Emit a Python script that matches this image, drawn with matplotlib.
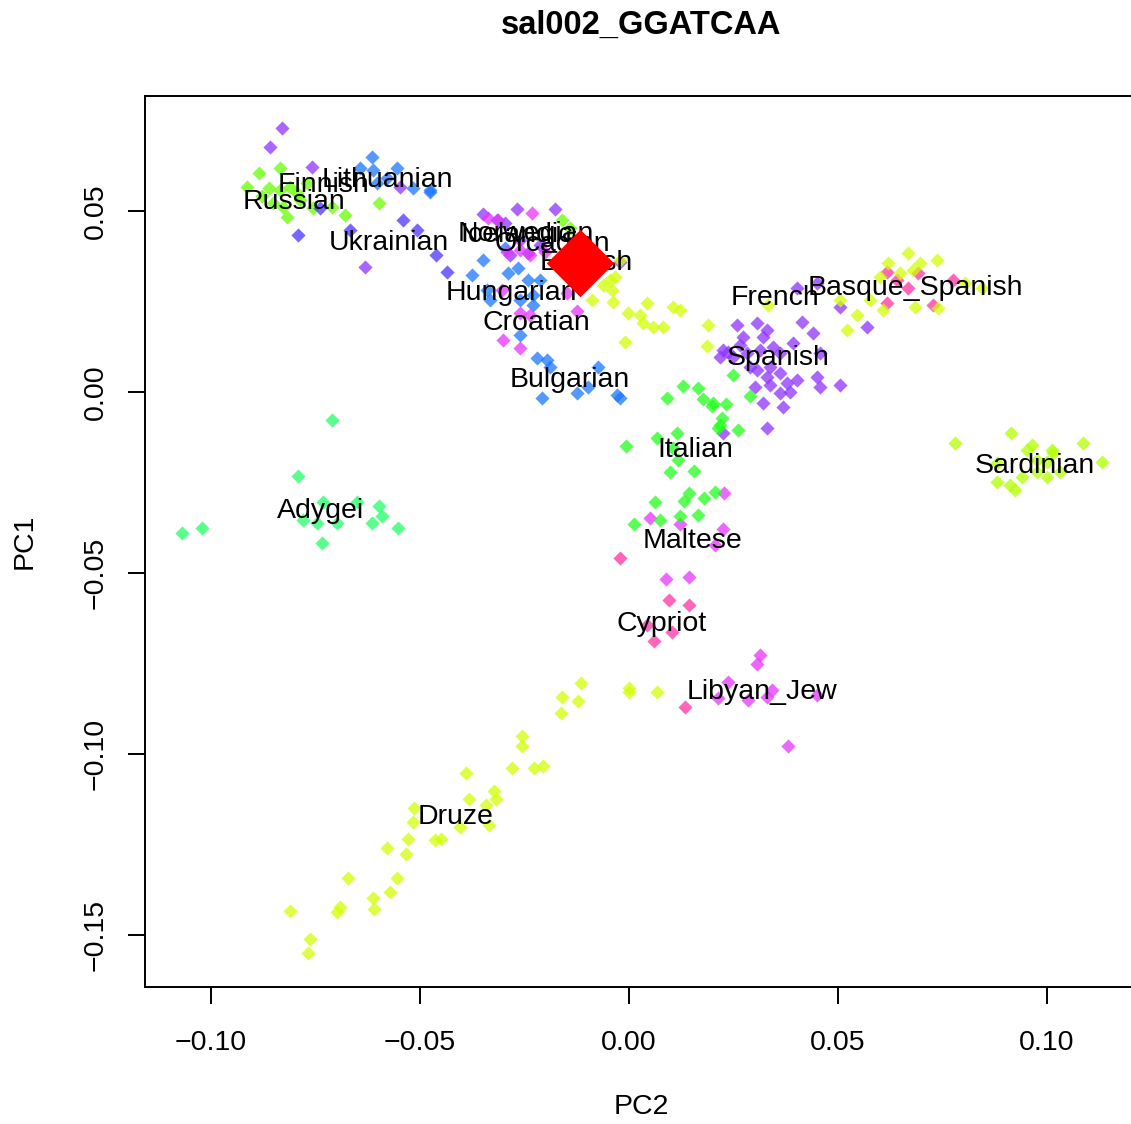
import numpy as np
import matplotlib.pyplot as plt

plt.rcParams['font.family'] = ['Liberation Sans', 'DejaVu Sans']

# 点数据 (PC2, PC1)，按颜色分组
lime_pc2 = [-0.0885, -0.0835, -0.0914, -0.0861, -0.0835, -0.0811, -0.0828, -0.0818, -0.0852, -0.0794,
            -0.0756, -0.0711, -0.0679, -0.0598, -0.0770, -0.0878, -0.0787, -0.0160, -0.0141]
lime_pc1 = [0.0605, 0.0619, 0.0566, 0.0564, 0.0558, 0.0566, 0.0511, 0.0483, 0.0522, 0.0550,
            0.0508, 0.0511, 0.0489, 0.0522, 0.0577, 0.0541, 0.0530, 0.0475, 0.0453]

blue_pc2 = [-0.0615, -0.0644, -0.0612, -0.0555, -0.0517, -0.0476, -0.0579, -0.0603, -0.0476, -0.0349,
            -0.0376, -0.0289, -0.0266, -0.0242, -0.0333, -0.0261, -0.0230, -0.0340, -0.0261, -0.0220,
            -0.0196, -0.0189, -0.0074, -0.0098, -0.0124, -0.0208, -0.0029, -0.0022, -0.0297, -0.0213,
            -0.0230]
blue_pc1 = [0.0649, 0.0619, 0.0613, 0.0619, 0.0564, 0.0558, 0.0591, 0.0577, 0.0552, 0.0365,
            0.0323, 0.0329, 0.0343, 0.0309, 0.0254, 0.0254, 0.0240, 0.0282, 0.0157, 0.0094,
            0.0088, 0.0069, 0.0069, 0.0014, -0.0003, -0.0017, -0.0008, -0.0017, 0.0398, 0.0309,
            0.0268]

indigo_pc2 = [-0.0541, -0.0507, -0.0792, -0.0739, -0.0435, -0.0462, -0.0667]
indigo_pc1 = [0.0475, 0.0448, 0.0434, 0.0508, 0.0331, 0.0378, 0.0448]

violet_pc2 = [-0.0830, -0.0859, -0.0758, -0.0548, -0.0632, -0.0349, -0.0268, -0.0177, -0.0297, -0.0261,
              -0.0213, -0.0285, -0.0242, -0.0316, -0.0022,
              0.0505, 0.0569, 0.0414, 0.0440, 0.0402, 0.0450,
              0.0258, 0.0306, 0.0330, 0.0321, 0.0273, 0.0225, 0.0218, 0.0249, 0.0282, 0.0313,
              0.0344, 0.0361, 0.0392, 0.0457, 0.0289, 0.0306, 0.0337, 0.0361, 0.0402, 0.0378,
              0.0330, 0.0301, 0.0337, 0.0361, 0.0385, 0.0450, 0.0457, 0.0505, 0.0321, 0.0368,
              0.0330, 0.0225, 0.0266, 0.0237]
violet_pc1 = [0.0729, 0.0677, 0.0622, 0.0566, 0.0345, 0.0492, 0.0506, 0.0506, 0.0467, 0.0420,
              0.0406, 0.0378, 0.0384, 0.0475, 0.0359,
              0.0235, 0.0180, 0.0193, 0.0163, 0.0287, 0.0301,
              0.0185, 0.0191, 0.0171, 0.0152, 0.0152, 0.0116, 0.0097, 0.0097, 0.0108, 0.0116,
              0.0124, 0.0108, 0.0135, 0.0108, 0.0069, 0.0061, 0.0069, 0.0052, 0.0033, 0.0025,
              0.0041, 0.0014, 0.0019, -0.0003, 0.0000, 0.0041, 0.0014, 0.0019, -0.0030, -0.0041,
              -0.0099, -0.0113, 0.0130, 0.0110]

magenta_pc2 = [-0.0232, -0.0337, -0.0313, -0.0261, -0.0237, -0.0201, -0.0304, -0.0148, -0.0124, -0.0261,
               -0.0301, -0.0261, -0.0237, -0.0292,
               0.0227, 0.0050, 0.0122, 0.0225, 0.0206, 0.0089, 0.0144,
               0.0313, 0.0306, 0.0237, 0.0213, 0.0285, 0.0342, 0.0330, 0.0450, 0.0380]
magenta_pc1 = [0.0494, 0.0481, 0.0475, 0.0392, 0.0378, 0.0387, 0.0282, 0.0273, 0.0224, 0.0218,
               0.0144, 0.0122, 0.0213, 0.0387,
               -0.0279, -0.0348, -0.0365, -0.0378, -0.0423, -0.0517, -0.0511,
               -0.0727, -0.0751, -0.0801, -0.0845, -0.0851, -0.0823, -0.0843, -0.0837, -0.0978]

pink_pc2 = [-0.0022, 0.0096, 0.0144, 0.0043, 0.0103, 0.0060, 0.0134,
            0.0617, 0.0691, 0.0775, 0.0667, 0.0617, 0.0727, 0.0641]
pink_pc1 = [-0.0459, -0.0575, -0.0588, -0.0644, -0.0663, -0.0688, -0.0870,
            0.0331, 0.0329, 0.0309, 0.0287, 0.0246, 0.0240, 0.0309]

yellow_pc2 = [0.0667, 0.0620, 0.0737, 0.0696, 0.0679, 0.0648, 0.0600, 0.0684, 0.0608, 0.0739,
              0.0545, 0.0522, 0.0577, 0.0804, 0.0845, 0.0505, 0.0189, 0.0187, 0.0333, 0.0122,
              -0.0033, -0.0062, -0.0041, -0.0038, -0.0089, -0.0002, 0.0026, 0.0043, 0.0057, 0.0081,
              0.0033, -0.0010, 0.0105, -0.0045, -0.0022,
              0.0000, 0.0000, 0.0067,
              -0.0115, -0.0160, -0.0122, -0.0163, -0.0256, -0.0256, -0.0280, -0.0227, -0.0206, -0.0390,
              -0.0323, -0.0318, -0.0383, -0.0342, -0.0335, -0.0404, -0.0514, -0.0517, -0.0529, -0.0464,
              -0.0450, -0.0579, -0.0533, -0.0672, -0.0555, -0.0612, -0.0572, -0.0610, -0.0691, -0.0699,
              -0.0811, -0.0763, -0.0768]
yellow_pc1 = [0.0384, 0.0356, 0.0365, 0.0356, 0.0337, 0.0329, 0.0318, 0.0235, 0.0227, 0.0232,
              0.0213, 0.0171, 0.0254, 0.0301, 0.0287, 0.0254, 0.0185, 0.0127, 0.0240, 0.0227,
              0.0318, 0.0296, 0.0282, 0.0249, 0.0254, 0.0218, 0.0213, 0.0246, 0.0180, 0.0180,
              0.0191, 0.0138, 0.0235, 0.0309, 0.0365,
              -0.0818, -0.0829, -0.0829,
              -0.0804, -0.0843, -0.0854, -0.0887, -0.0950, -0.0978, -0.1039, -0.1039, -0.1033, -0.1052,
              -0.1102, -0.1124, -0.1124, -0.1141, -0.1196, -0.1202, -0.1149, -0.1188, -0.1235, -0.1238,
              -0.1235, -0.1260, -0.1276, -0.1343, -0.1343, -0.1398, -0.1381, -0.1428, -0.1423, -0.1436,
              -0.1434, -0.1511, -0.1550]

sardinian_pc2 = [0.0780, 0.0914, 0.0964, 0.0952, 0.1012, 0.1014, 0.1086, 0.1132, 0.0880, 0.0976,
                 0.1000, 0.1031, 0.0940, 0.0880, 0.0911, 0.0923, 0.1000, 0.0976]
sardinian_pc1 = [-0.0141, -0.0113, -0.0146, -0.0160, -0.0160, -0.0169, -0.0141, -0.0193, -0.0196, -0.0221,
                 -0.0235, -0.0221, -0.0235, -0.0249, -0.0257, -0.0271, -0.0193, -0.0188]

italian_pc2 = [0.0249, 0.0129, 0.0165, 0.0091, 0.0177, 0.0201, 0.0232, 0.0199, 0.0222, 0.0218,
               0.0213, 0.0261, 0.0289, -0.0007, 0.0067, 0.0115, 0.0105, 0.0117, 0.0098, 0.0156,
               0.0144, 0.0206, 0.0179, 0.0132, 0.0062, 0.0165, 0.0122, 0.0074, 0.0012]
italian_pc1 = [0.0047, 0.0017, 0.0011, -0.0017, -0.0019, -0.0030, -0.0033, -0.0039, -0.0072, -0.0091,
               -0.0099, -0.0105, -0.0011, -0.0149, -0.0127, -0.0113, -0.0155, -0.0188, -0.0221, -0.0218,
               -0.0279, -0.0276, -0.0293, -0.0301, -0.0304, -0.0340, -0.0343, -0.0354, -0.0365]

adygei_pc2 = [-0.0711, -0.0792, -0.0732, -0.0651, -0.0598, -0.0591, -0.0615, -0.0553, -0.0780, -0.0746,
              -0.0699, -0.0734, -0.1069, -0.1022]
adygei_pc1 = [-0.0077, -0.0232, -0.0304, -0.0304, -0.0315, -0.0343, -0.0362, -0.0376, -0.0354, -0.0362,
              -0.0362, -0.0417, -0.0390, -0.0376]

# 样本位置
sample_pc2 = [-0.0117]
sample_pc1 = [0.0356]

# 群体标签
pop_names = ['Finnish', 'Lithuanian', 'Russian', 'Ukrainian', 'Norwegian', 'Icelandic', 'Orcadian',
             'English', 'Hungarian', 'Croatian', 'Bulgarian', 'French', 'Basque_Spanish', 'Spanish',
             'Italian', 'Sardinian', 'Adygei', 'Maltese', 'Cypriot', 'Libyan_Jew', 'Druze']
pop_pc2 = [-0.0730, -0.0577, -0.0801, -0.0574, -0.0246, -0.0270, -0.0184,
           -0.0103, -0.0282, -0.0222, -0.0141, 0.0349, 0.0684, 0.0356,
           0.0158, 0.0971, -0.0737, 0.0153, 0.0077, 0.0318, -0.0414]
pop_pc1 = [0.0580, 0.0594, 0.0533, 0.0420, 0.0445, 0.0442, 0.0417,
           0.0365, 0.0282, 0.0199, 0.0041, 0.0268, 0.0296, 0.0102,
           -0.0152, -0.0196, -0.0320, -0.0403, -0.0633, -0.0820, -0.1166]

groups = [
    (lime_pc2, lime_pc1, '#66ff00'),
    (blue_pc2, blue_pc1, '#1c77ff'),
    (indigo_pc2, indigo_pc1, '#4933ff'),
    (violet_pc2, violet_pc1, '#8e33ff'),
    (magenta_pc2, magenta_pc1, '#e833ff'),
    (pink_pc2, pink_pc1, '#ff33a4'),
    (yellow_pc2, yellow_pc1, '#d1ff05'),
    (sardinian_pc2, sardinian_pc1, '#b0ff00'),
    (italian_pc2, italian_pc1, '#22ff1c'),
    (adygei_pc2, adygei_pc1, '#22ff66'),
]

fig = plt.figure(figsize=(11.31, 11.24), dpi=100)
# 右边框在图片之外
ax = fig.add_axes([145 / 1131, 137 / 1124, 1004 / 1131, 891 / 1124])
ax.patch.set_visible(False)

for px, py, col in groups:
    ax.scatter(px, py, marker='D', s=52, color=col, alpha=0.75, linewidths=0, zorder=2)

for name, x, y in zip(pop_names, pop_pc2, pop_pc1):
    ax.text(x, y, name, fontsize=20.5, ha='center', va='center_baseline', zorder=3)

ax.scatter(sample_pc2, sample_pc1, marker='D', s=1180, color='#ff0000', linewidths=0, zorder=4)

ax.set_xlim(-0.1158, 0.1244)
ax.set_ylim(-0.1644, 0.0818)

xt = [-0.10, -0.05, 0.00, 0.05, 0.10]
yt = [-0.15, -0.10, -0.05, 0.00, 0.05]
ax.set_xticks(xt)
ax.set_xticklabels([f'{v:.2f}'.replace('-', '\u2212') for v in xt])
ax.set_yticks(yt)
ax.set_yticklabels([f'{v:.2f}'.replace('-', '\u2212') for v in yt], rotation=90, va='center')
ax.tick_params(length=12, width=1.4, labelsize=20.5)
ax.tick_params(axis='x', pad=19)
ax.tick_params(axis='y', pad=14)
for sp in ax.spines.values():
    sp.set_linewidth(1.4)
ax.spines['right'].set_visible(False)
# 上下边框只画到图片右边缘
ax.spines['top'].set_bounds(-0.1158, 0.1199)
ax.spines['bottom'].set_bounds(-0.1158, 0.1199)

fig.text(641 / 1131, 1 - 25 / 1124, 'sal002_GGATCAA', fontsize=23.5, fontweight='bold',
         ha='center', va='center')
fig.text(641 / 1131, 1 - 1107 / 1124, 'PC2', fontsize=20.5, ha='center', va='center')
fig.text(25 / 1131, 1 - 541 / 1124, 'PC1', fontsize=20.5, ha='center', va='center', rotation=90)

fig.savefig('out.png', dpi=100)
